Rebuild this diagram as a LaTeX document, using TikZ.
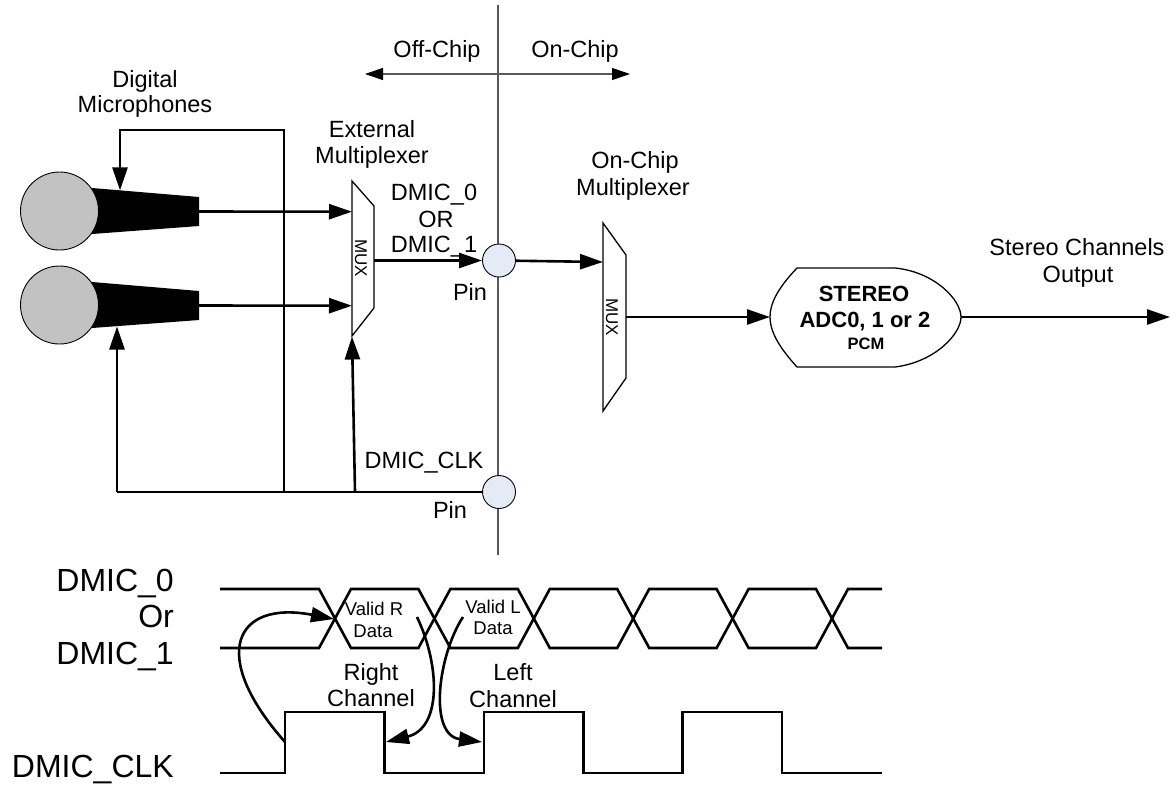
\documentclass[tikz,border=0pt]{standalone}
\usepackage{fontspec}
\setmainfont{Liberation Sans}
\usetikzlibrary{arrows.meta}
\definecolor{pinfill}{HTML}{E4EAF6}
\definecolor{micfill}{HTML}{C2C2C2}
\begin{document}
\begin{tikzpicture}[x=1pt,y=-1pt,
  >={Triangle[length=23pt,width=15pt]},
  wire/.style={line width=2.6pt},
  arr/.style={wire,->},
  thinline/.style={line width=1.1pt,draw=black!65},
  muxshape/.style={line width=1.3pt,fill=white},
  pinnode/.style={circle,draw,line width=0.9pt,fill=pinfill,minimum size=33pt,inner sep=0pt},
  micnode/.style={circle,draw,line width=0.9pt,fill=micfill,minimum size=78pt,inner sep=0pt},
  lab/.style={font=\fontsize{23.5}{27}\selectfont,inner sep=0pt,anchor=base},
  biglab/.style={font=\fontsize{32}{36}\selectfont,inner sep=0pt,anchor=base east},
  smalllab/.style={font=\fontsize{18.5}{20}\selectfont,inner sep=0pt,anchor=base},
  muxlab/.style={font=\fontsize{17}{18}\selectfont,inner sep=0pt,rotate=-90},
  adclab/.style={font=\bfseries\fontsize{22}{26}\selectfont,inner sep=0pt,anchor=base},
  pcmlab/.style={font=\bfseries\fontsize{16.5}{20}\selectfont,inner sep=0pt,anchor=base}
]
\useasboundingbox (0,0) rectangle (1176,785);

% ---------- chip boundary ----------
\coordinate (divtop) at (498,5);
\coordinate (divbot) at (498,555);
\draw[thinline] (divtop) -- (divbot);
\coordinate (offc) at (365,74);
\coordinate (onc) at (630,74);
\draw[thinline,{Triangle[length=18pt,width=12pt,color=black]}-{Triangle[length=18pt,width=12pt,color=black]}] (offc) -- (onc);
\node[lab] (offlab) at (437,57) {Off-Chip};
\node[lab] (onlab) at (575,57) {On-Chip};

% ---------- microphones ----------
\foreach \dy in {0,94} {
  \fill (60,185.3+\dy) -- (199,197+\dy) -- (199,226+\dy) -- (60,236.4+\dy) -- cycle;
}
\node[micnode] (mic1) at (59.5,211) {};
\node[micnode] (mic2) at (59.5,305) {};
\node[lab] (dig1) at (145,87) {Digital};
\node[lab] (dig2) at (145,112) {Microphones};
\coordinate (mic1out) at (199,211.5);
\coordinate (mic2out) at (199,305.5);
\coordinate (mic1top) at (120,190.4);
\coordinate (mic2bot) at (117,326.5);

% ---------- external multiplexer ----------
\draw[muxshape] (352,181) -- (374,206) -- (374,308) -- (352,336) -- cycle;
\node[muxlab] (emux) at (361,258) {MUX};
\coordinate (emuxin1) at (352,211.7);
\coordinate (emuxin2) at (352,305.7);
\coordinate (emuxsel) at (352,336.5);
\coordinate (emuxout) at (374,260.5);
\node[lab] (ext1) at (372,137) {External};
\node[lab] (ext2) at (372,163) {Multiplexer};

\draw[arr] (mic1out) -- (emuxin1);
\draw[arr] (mic2out) -- (emuxin2);

% ---------- pins ----------
\node[pinnode] (pin1) at (499,260.5) {};
\node[pinnode] (pin2) at (499,492) {};
\node[lab] (d0) at (434,200) {DMIC\_0};
\node[lab] (dor) at (436,227) {OR};
\node[lab] (d1) at (434,252) {DMIC\_1};
\node[lab] (pinlab1) at (470,300) {Pin};
\node[lab] (clklab) at (424,468) {DMIC\_CLK};
\node[lab] (pinlab2) at (450,518) {Pin};

\draw[arr] (emuxout) -- (pin1);

% ---------- clock distribution ----------
\coordinate (j1) at (117,492);
\coordinate (j2) at (284,492);
\coordinate (j3) at (355,492);
\coordinate (fbtop) at (284,130);
\coordinate (fbleft) at (120,130);
\draw[wire] (j1) -- (pin2);
\draw[arr] (j2) -- (fbtop) -- (fbleft) -- (mic1top);
\draw[arr] (j1) -- (mic2bot);
\draw[arr] (j3) -- (emuxsel);

% ---------- on-chip multiplexer ----------
\draw[muxshape] (603,223) -- (626,255) -- (626,378) -- (603,411) -- cycle;
\node[muxlab] (omux) at (612,317) {MUX};
\coordinate (omuxin) at (603,262);
\coordinate (omuxout) at (626,317);
\node[lab] (onm1) at (635,168) {On-Chip};
\node[lab] (onm2) at (633,195) {Multiplexer};
\draw[arr] (pin1) -- (omuxin);

% ---------- ADC ----------
\draw[line width=1.3pt] (797,268) -- (895,268)
  .. controls (935,272) and (961,300) .. (961,317)
  .. controls (961,334) and (935,362) .. (895,367)
  -- (797,367)
  .. controls (777,345) and (770,330) .. (770,317)
  .. controls (770,304) and (777,289) .. (797,268) -- cycle;
\node[adclab] (adc1) at (864,301) {STEREO};
\node[adclab] (adc2) at (865,327) {ADC0, 1 or 2};
\node[pcmlab] (adc3) at (866,349) {PCM};
\coordinate (adcin) at (770,317);
\coordinate (adcout) at (961,317);
\coordinate (outend) at (1170,317);
\draw[arr] (omuxout) -- (adcin);
\draw[arr] (adcout) -- (outend);
\node[lab] (st1) at (1077,255) {Stereo Channels};
\node[lab] (st2) at (1078,282) {Output};

% ---------- timing diagram ----------
\draw[wire] (220,589) -- (319,589) -- (351,648) -- (418.4,648) -- (450.4,589) -- (517.8,589) -- (549.8,648) -- (617.2,648) -- (649.2,589) -- (716.6,589) -- (748.6,648) -- (816,648) -- (848,589) -- (882,589);
\draw[wire] (220,648) -- (319,648) -- (351,589) -- (418.4,589) -- (450.4,648) -- (517.8,648) -- (549.8,589) -- (617.2,589) -- (649.2,648) -- (716.6,648) -- (748.6,589) -- (816,589) -- (848,648) -- (882,648);
\draw[wire] (220,773) -- (285,773) -- (285,712) -- (384.4,712) -- (384.4,773) -- (483.8,773) -- (483.8,712) -- (583.2,712) -- (583.2,773) -- (682.6,773) -- (682.6,712) -- (782,712) -- (782,773) -- (882,773);

\node[biglab] (t0) at (174,591) {DMIC\_0};
\node[biglab] (tor) at (174,627) {Or};
\node[biglab] (t1) at (174,664) {DMIC\_1};
\node[biglab] (tclk) at (174,777) {DMIC\_CLK};

\node[smalllab] (vr1) at (374,615) {Valid R};
\node[smalllab] (vr2) at (373,637) {Data};
\node[smalllab] (vl1) at (493,613) {Valid L};
\node[smalllab] (vl2) at (493,634) {Data};
\node[lab] (rc1) at (371,680) {Right};
\node[lab] (rc2) at (371,706) {Channel};
\node[lab] (lc1) at (513,680) {Left};
\node[lab] (lc2) at (513,707) {Channel};

\coordinate (ck1) at (285,742);
\coordinate (x1) at (334,619);
\coordinate (rs) at (417,617);
\coordinate (rt) at (386,742);
\coordinate (ls) at (463,617);
\coordinate (lt) at (482,742);
\draw[arr] (ck1) .. controls (208,655) and (235,600) .. (x1);
\draw[arr] (rs) .. controls (440,665) and (442,728) .. (rt);
\draw[arr] (ls) .. controls (438,655) and (428,735) .. (lt);
\end{tikzpicture}
\end{document}
